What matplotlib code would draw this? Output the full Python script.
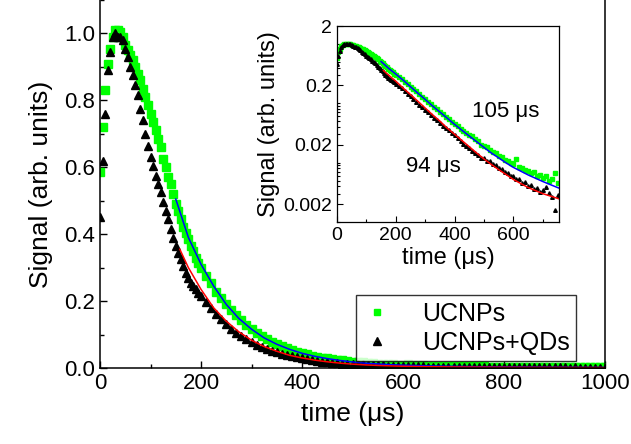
import numpy as np
import matplotlib
matplotlib.use('Agg')
import matplotlib.pyplot as plt
from matplotlib.ticker import FixedLocator, MultipleLocator, LogLocator, NullFormatter

plt.rcParams['font.family'] = ['Liberation Sans', 'DejaVu Sans']

# time grid (us): 5 us steps up to 195, then 10 us steps
t = np.concatenate([np.arange(0, 200, 5), np.arange(200, 1001, 10)])

ucnp = [0.585, 0.72, 0.83, 0.91, 0.955, 0.99, 1.01, 1.01, 1.005, 0.99,
        0.965, 0.95, 0.935, 0.92, 0.90, 0.88, 0.86, 0.835, 0.81, 0.785,
        0.76, 0.735, 0.71, 0.685, 0.66, 0.625, 0.60, 0.57, 0.55, 0.52,
        0.49, 0.47, 0.445, 0.42, 0.405, 0.385, 0.365, 0.35, 0.33, 0.315,
        0.30, 0.275, 0.255, 0.228, 0.21, 0.19, 0.172, 0.158, 0.142, 0.128,
        0.117, 0.106, 0.096, 0.087, 0.079, 0.071, 0.066, 0.059, 0.054, 0.049,
        0.045, 0.041, 0.037, 0.034, 0.031, 0.029, 0.028, 0.025, 0.023, 0.020,
        0.019, 0.018, 0.0165, 0.015, 0.0145, 0.013, 0.0125, 0.011, 0.0108, 0.0098,
        0.0095, 0.0115, 0.0086, 0.0080, 0.0076, 0.0072, 0.0068, 0.0070, 0.0060, 0.0063,
        0.0056, 0.0059, 0.0050, 0.0054, 0.0067, 0.0046, 0.0045, 0.0043, 0.0040, 0.0042,
        0.0038, 0.0036, 0.0037, 0.0034, 0.0033, 0.0034, 0.0031, 0.0030, 0.0031, 0.0029,
        0.0028, 0.0029, 0.0027, 0.0026, 0.0027, 0.0025, 0.0025, 0.0024, 0.0025, 0.0023,
        0.0023]

ucnp_qd = [0.45, 0.62, 0.76, 0.89, 0.945, 0.99, 1.0, 0.99, 0.99, 0.98,
           0.955, 0.93, 0.90, 0.875, 0.845, 0.815, 0.775, 0.74, 0.70, 0.665,
           0.63, 0.605, 0.575, 0.55, 0.525, 0.495, 0.47, 0.445, 0.415, 0.39,
           0.365, 0.345, 0.325, 0.305, 0.285, 0.27, 0.255, 0.245, 0.235, 0.225,
           0.215, 0.198, 0.178, 0.16, 0.145, 0.13, 0.117, 0.105, 0.095, 0.086,
           0.078, 0.070, 0.063, 0.057, 0.052, 0.047, 0.042, 0.038, 0.035, 0.032,
           0.029, 0.026, 0.0235, 0.021, 0.019, 0.0178, 0.016, 0.0148, 0.0132, 0.0122,
           0.012, 0.0108, 0.0105, 0.0094, 0.0092, 0.0080, 0.0078, 0.0070, 0.0068, 0.0060,
           0.0060, 0.0052, 0.0054, 0.0046, 0.0047, 0.0040, 0.0042, 0.0036, 0.0038, 0.0032,
           0.0034, 0.0039, 0.0031, 0.0026, 0.0016, 0.0028, 0.0025, 0.0024, 0.0023, 0.0022,
           0.0021, 0.0020, 0.0021, 0.0019, 0.0018, 0.0019, 0.0017, 0.0017, 0.0016, 0.0016,
           0.0015, 0.0016, 0.0015, 0.0014, 0.0015, 0.0014, 0.0013, 0.0014, 0.0013, 0.0013,
           0.0013]

# fitted decay curves
t_fit_blue = [150, 175, 200, 225, 250, 275, 300, 325, 350, 375, 400, 425, 450, 475,
              500, 525, 550, 575, 600, 650, 700, 750, 800, 850, 900, 950, 1000]
fit_blue = [0.505, 0.39, 0.31, 0.245, 0.19, 0.148, 0.116, 0.090, 0.071, 0.056, 0.044,
            0.035, 0.028, 0.0225, 0.018, 0.0145, 0.012, 0.0099, 0.0083, 0.0062, 0.0048,
            0.0038, 0.0031, 0.0026, 0.0022, 0.0019, 0.0017]
t_fit_red = [158, 175, 200, 225, 250, 275, 300, 325, 350, 375, 400, 425, 450, 475,
             500, 525, 550, 575, 600, 650, 700, 750, 800, 850, 900, 950, 1000]
fit_red = [0.355, 0.30, 0.235, 0.18, 0.14, 0.108, 0.083, 0.064, 0.050, 0.038, 0.030,
           0.0235, 0.0185, 0.0145, 0.0115, 0.0093, 0.0076, 0.0063, 0.0052, 0.0038, 0.0030,
           0.0025, 0.0021, 0.0018, 0.0016, 0.0014, 0.0013]

green = '#00ff00'

fig = plt.figure(figsize=(6.31, 4.44), dpi=100)
ax = fig.add_axes([0.1585, 0.1712, 0.8003, 0.8288])

ax.plot(t, ucnp, ls='none', marker='s', ms=5.5, color=green, mec=green, label='UCNPs')
ax.plot(t, ucnp_qd, ls='none', marker='^', ms=6, color='black', mec='black', label='UCNPs+QDs')
ax.plot(t_fit_blue, fit_blue, color='blue', lw=1.1)
ax.plot(t_fit_red, fit_red, color='red', lw=1.1)

ax.set_xlim(0, 1000)
ax.set_ylim(0, 1.1)
ax.xaxis.set_major_locator(MultipleLocator(200))
ax.xaxis.set_minor_locator(MultipleLocator(100))
ax.yaxis.set_major_locator(FixedLocator([0, 0.2, 0.4, 0.6, 0.8, 1.0]))
ax.yaxis.set_minor_locator(MultipleLocator(0.1))
ax.set_yticklabels(['0.0', '0.2', '0.4', '0.6', '0.8', '1.0'])
ax.tick_params(which='both', direction='in', labelsize=16, width=1)
ax.tick_params(which='major', length=5)
ax.tick_params(which='minor', length=3)
ax.spines['top'].set_visible(False)
for s in ['left', 'bottom', 'right']:
    ax.spines[s].set_linewidth(1.1)
ax.set_xlabel('time (\u03bcs)', fontsize=19, labelpad=6)
ax.set_ylabel('Signal (arb. units)', fontsize=19, labelpad=8)

leg = ax.legend(loc='lower right', bbox_to_anchor=(0.9426, 0.019), borderaxespad=0,
                fontsize=18, frameon=True, fancybox=False, edgecolor='black',
                handlelength=1.2, handletextpad=1.2, borderpad=0.25, labelspacing=0.2,
                markerscale=0.9)
leg.get_frame().set_linewidth(1.0)

# inset, log scale
ins = fig.add_axes([0.534, 0.5, 0.352, 0.4414])
ins.plot(t, ucnp, ls='none', marker='s', ms=2.4, color=green, mec=green)
ins.plot(t, ucnp_qd, ls='none', marker='^', ms=2.6, color='black', mec='black')
ins.plot(t_fit_blue, fit_blue, color='blue', lw=1.1)
ins.plot(t_fit_red, fit_red, color='red', lw=1.1)
ins.set_yscale('log')
ins.set_xlim(0, 755)
ins.set_ylim(0.001, 2)
ins.xaxis.set_major_locator(MultipleLocator(200))
ins.xaxis.set_minor_locator(MultipleLocator(100))
ins.yaxis.set_major_locator(FixedLocator([0.002, 0.02, 0.2, 2]))
ins.yaxis.set_minor_locator(LogLocator(base=10, subs=(1, 3, 4, 5, 6, 7, 8, 9)))
ins.yaxis.set_minor_formatter(NullFormatter())
ins.set_yticklabels(['0.002', '0.02', '0.2', '2'])
ins.tick_params(which='both', direction='in', labelsize=14, width=0.8)
ins.tick_params(which='major', length=4)
ins.tick_params(which='minor', length=2)
for s in ins.spines.values():
    s.set_linewidth(0.9)
ins.set_xlabel('time (\u03bcs)', fontsize=17, labelpad=2)
ins.set_ylabel('Signal (arb. units)', fontsize=17, labelpad=2)
ins.text(574, 0.0726, '105 \u03bcs', fontsize=16, ha='center', va='center')
ins.text(328, 0.0086, '94 \u03bcs', fontsize=16, ha='center', va='center')

fig.savefig('out.png', dpi=100)
